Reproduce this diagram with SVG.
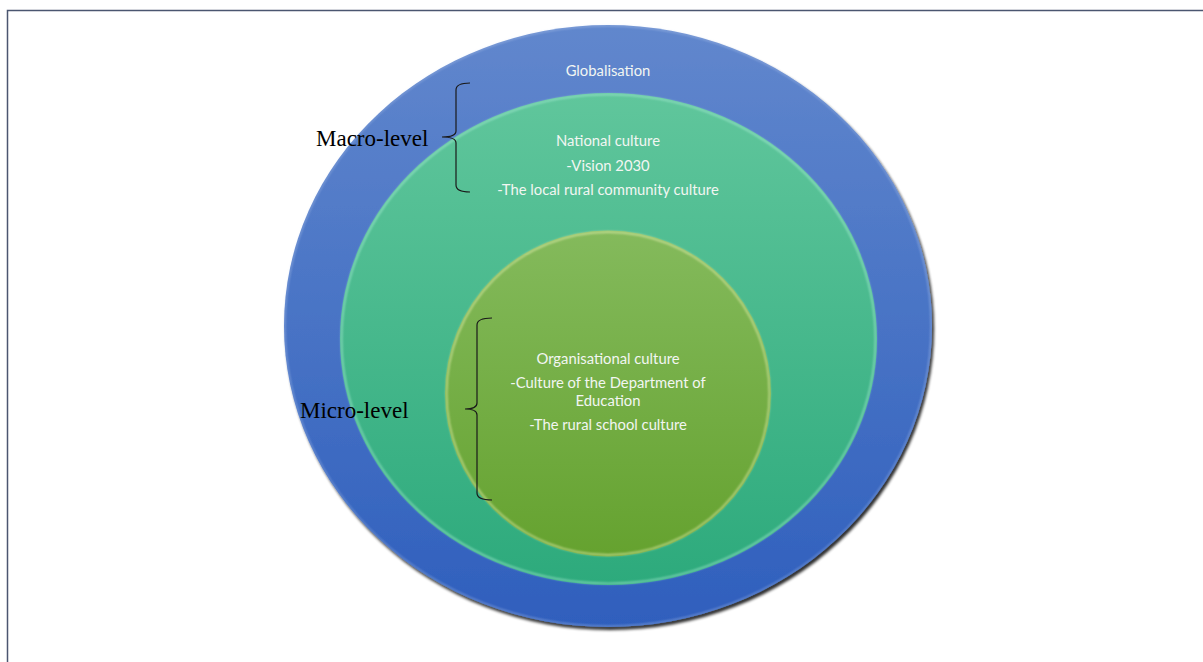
<svg xmlns="http://www.w3.org/2000/svg" width="1203" height="662" viewBox="0 0 1203 662">
  <style>
    .lbl { font-family: Lato, "Open Sans", "Liberation Sans", sans-serif; font-size: 14.8px; fill: #f2f6f2; text-anchor: middle; }
    .lvl { font-family: "Liberation Serif", "Times New Roman", serif; font-size: 23px; fill: #000000; }
    .brace { fill: none; stroke: #1a1a1a; stroke-width: 1.2; }
  </style>
  <defs>
    <linearGradient id="gBlue" x1="0" y1="0" x2="0" y2="1">
      <stop offset="0" stop-color="#6187cd"/>
      <stop offset="1" stop-color="#2f5fbd"/>
    </linearGradient>
    <linearGradient id="gTeal" x1="0" y1="0" x2="0" y2="1">
      <stop offset="0" stop-color="#60c69c"/>
      <stop offset="1" stop-color="#2daa7c"/>
    </linearGradient>
    <linearGradient id="gOlive" x1="0" y1="0" x2="0" y2="1">
      <stop offset="0" stop-color="#84ba5c"/>
      <stop offset="1" stop-color="#65a22f"/>
    </linearGradient>
    <filter id="drop" x="-10%" y="-10%" width="120%" height="120%">
      <feGaussianBlur in="SourceAlpha" stdDeviation="1.6"/>
      <feOffset dx="2" dy="3" result="s"/>
      <feComponentTransfer><feFuncA type="linear" slope="0.85"/></feComponentTransfer>
      <feMerge><feMergeNode/><feMergeNode in="SourceGraphic"/></feMerge>
    </filter>
    <filter id="soft" x="-5%" y="-5%" width="110%" height="110%">
      <feGaussianBlur stdDeviation="0.8"/>
    </filter>
  </defs>

  <!-- page frame -->
  <path d="M7.5 662 V10.5 H1203" fill="none" stroke="#4b5670" stroke-width="1.5"/>

  <g id="globalisation">
    <ellipse cx="608" cy="326" rx="324" ry="301" fill="url(#gBlue)" filter="url(#drop)"/>
    <ellipse cx="608" cy="326" rx="323.3" ry="300.3" fill="none" stroke="#d4e2f8" stroke-width="1" opacity="0.6" filter="url(#soft)"/>
    <text class="lbl" x="608" y="76">Globalisation</text>
  </g>

  <g id="national-culture">
    <ellipse cx="608.5" cy="339" rx="268.5" ry="246" fill="url(#gTeal)"/>
    <ellipse cx="608.5" cy="339" rx="267" ry="244.5" fill="none" stroke="#b8f5e0" stroke-width="1.6" opacity="0.6" filter="url(#soft)"/>
    <text class="lbl" x="608" y="146">National culture</text>
    <text class="lbl" x="608" y="171">-Vision 2030</text>
    <text class="lbl" x="608" y="195">-The local rural community culture</text>
  </g>

  <g id="organisational-culture">
    <circle cx="608" cy="393.5" r="163" fill="url(#gOlive)"/>
    <circle cx="608" cy="393.5" r="161.5" fill="none" stroke="#eef5b8" stroke-width="1.8" opacity="0.6" filter="url(#soft)"/>
    <text class="lbl" x="608" y="364">Organisational culture</text>
    <text class="lbl" x="608" y="388">-Culture of the Department of</text>
    <text class="lbl" x="608" y="406">Education</text>
    <text class="lbl" x="608" y="430">-The rural school culture</text>
  </g>

  <g id="macro-level">
    <text class="lvl" x="316" y="146">Macro-level</text>
  </g>

  <g id="micro-level">
    <text class="lvl" x="300" y="418">Micro-level</text>
  </g>

  <g id="connectors">
    <path class="brace" d="M470 83 Q456 83 456 90 V131 Q456 137 442 137 Q456 137 456 143 V185 Q456 192 470 192"/>
    <path class="brace" d="M492 318 Q477 318 477 325 V403 Q477 409 465 409 Q477 409 477 415 V493 Q477 500 492 500"/>
  </g>
</svg>
